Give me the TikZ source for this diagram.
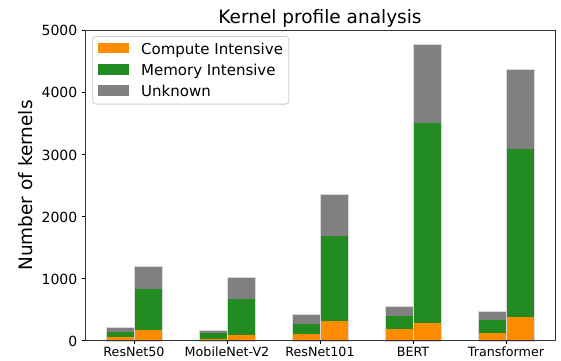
\documentclass[tikz,border=0pt]{standalone}
\usepackage{fontspec}
\setmainfont{DejaVu Sans}
\definecolor{corange}{HTML}{FF8C00}
\definecolor{cgreen}{HTML}{228B22}
\definecolor{cgray}{HTML}{808080}
\begin{document}
\begin{tikzpicture}[x=1pt,y=1pt,
  barline/.style={draw=black!15, line width=0.4pt},
  ticklab/.style={inner sep=0pt, font=\fontsize{12.7}{15}\selectfont},
  yticklab/.style={inner sep=0pt, font=\fontsize{14}{17}\selectfont},
  legtext/.style={inner sep=0pt, anchor=base west, font=\fontsize{15}{18}\selectfont},
  bigtext/.style={inner sep=0pt, font=\fontsize{18.5}{22}\selectfont}]
\useasboundingbox (0,0) rectangle (561,360);
% bars
\begin{scope}[yshift=19.3pt, y=0.06214pt]
\foreach \c/\ao/\ag/\au/\bo/\bg/\bu in {134/60/145/220/170/840/1200,
  227/32/119/172/92/671/1020,
  320/103/274/425/317/1685/2356,
  413/188/393/563/285/3508/4775,
  506/129/328/467/377/3080/4368}{
  \fill[corange] (\c-28.3,0) rectangle (\c,\ao);
  \fill[cgreen] (\c-28.3,\ao) rectangle (\c,\ag);
  \fill[cgray] (\c-28.3,\ag) rectangle (\c,\au);
  \draw[barline] (\c-28.3,0) rectangle (\c,\au);
  \fill[corange] (\c,0) rectangle (\c+28.3,\bo);
  \fill[cgreen] (\c,\bo) rectangle (\c+28.3,\bg);
  \fill[cgray] (\c,\bg) rectangle (\c+28.3,\bu);
  \draw[barline] (\c,0) rectangle (\c+28.3,\bu);
}
% y ticks
\foreach \v in {0,1000,...,5000}{
  \draw[line width=0.8pt] (81.5,\v) -- (85,\v);
  \node[yticklab, anchor=base east] (yt\v) at (77.5,\v-92) {\v};
}
\end{scope}
% x ticks
\foreach \c/\lab in {134/ResNet50,227/MobileNet-V2,320/ResNet101,413/BERT,506/Transformer}{
  \draw[line width=0.8pt] (\c,19.3) -- (\c,15.8);
  \node[ticklab, anchor=base] (xt\c) at (\c,4.0) {\lab};
}
% frame
\draw[line width=0.8pt, black!80] (85,19.3) rectangle (555,330);
% legend
\node[draw=black!20, fill=white, fill opacity=0.8, rounded corners=3pt, line width=0.8pt,
  minimum width=196pt, minimum height=67.7pt, inner sep=0pt, anchor=north west] (leg) at (92.3,324) {};
\fill[corange] (98.3,306.7) rectangle (128.7,317.3);
\fill[cgreen] (98.3,285.4) rectangle (128.7,296);
\fill[cgray] (98.3,264) rectangle (128.7,274.6);
\node[legtext] (l1) at (141,306) {Compute Intensive};
\node[legtext] (l2) at (141,284.7) {Memory Intensive};
\node[legtext] (l3) at (141,263.3) {Unknown};
% title and label
\node[bigtext, anchor=base] (title) at (320,336.7) {Kernel profile analysis};
\node[bigtext, rotate=90] (ylab) at (25.3,174.5) {Number of kernels};
\end{tikzpicture}
\end{document}
